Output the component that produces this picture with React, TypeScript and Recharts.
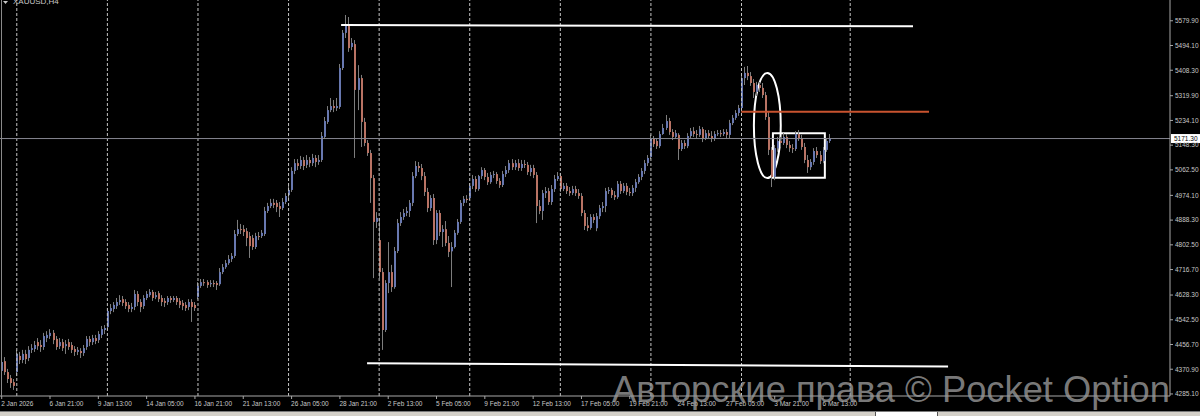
import { ComposedChart, Bar, XAxis, YAxis, ReferenceLine, ReferenceArea } from "recharts";

// XAUUSD H4, 2 Jan – 6 Mar 2026. Each row: [open, high, low, close]
const ohlc: [number, number, number, number][] = [
  [4368,4399,4358,4385],[4365,4410,4351,4396],[4399,4413,4351,4361],[4361,4372,4323,4337],[4340,4351,4306,4323],[4326,4337,4299,4313],[4361,4438,4347,4424],[4417,4431,4389,4403],[4403,4438,4392,4424],[4424,4438,4389,4406],
  [4410,4451,4399,4438],[4438,4458,4427,4444],[4441,4469,4431,4455],[4465,4479,4438,4451],[4455,4472,4431,4448],[4448,4497,4438,4486],[4479,4503,4465,4490],[4486,4510,4476,4497],[4497,4507,4458,4472],[4476,4486,4438,4448],
  [4451,4479,4441,4465],[4465,4476,4434,4444],[4451,4472,4424,4458],[4465,4476,4438,4448],[4455,4465,4427,4438],[4441,4451,4417,4431],[4431,4448,4420,4438],[4434,4444,4410,4427],[4427,4455,4417,4444],[4448,4486,4438,4476],
  [4476,4486,4451,4465],[4465,4490,4455,4479],[4479,4490,4458,4469],[4472,4503,4462,4493],[4490,4521,4479,4510],[4507,4524,4493,4514],[4517,4583,4507,4573],[4573,4597,4562,4583],[4580,4604,4569,4594],[4590,4618,4580,4604],
  [4604,4628,4594,4611],[4614,4625,4590,4601],[4604,4614,4580,4590],[4594,4604,4569,4580],[4580,4601,4569,4587],[4587,4646,4576,4632],[4632,4642,4590,4604],[4604,4614,4569,4587],[4590,4628,4580,4618],[4618,4642,4611,4632],
  [4628,4649,4621,4639],[4639,4646,4608,4618],[4621,4639,4614,4628],[4635,4642,4604,4614],[4618,4628,4590,4604],[4608,4618,4587,4601],[4604,4625,4594,4618],[4618,4625,4601,4611],[4611,4625,4604,4618],[4618,4625,4594,4604],
  [4608,4618,4583,4594],[4601,4611,4576,4590],[4594,4604,4573,4583],[4587,4614,4576,4604],[4604,4614,4535,4587],[4594,4604,4573,4583],[4621,4673,4614,4660],[4660,4684,4653,4673],[4673,4684,4660,4670],[4673,4680,4653,4663],
  [4666,4680,4656,4670],[4670,4680,4656,4666],[4670,4677,4646,4663],[4666,4722,4660,4708],[4708,4736,4701,4725],[4725,4750,4719,4739],[4739,4767,4733,4753],[4753,4774,4743,4764],[4764,4854,4757,4840],[4840,4889,4833,4857],
  [4857,4875,4840,4854],[4857,4871,4833,4847],[4850,4861,4798,4826],[4833,4847,4757,4798],[4826,4837,4785,4795],[4795,4844,4788,4833],[4833,4847,4819,4830],[4833,4854,4826,4844],[4840,4934,4833,4920],[4920,4948,4913,4937],
  [4937,4962,4930,4948],[4948,4962,4930,4941],[4948,4958,4916,4934],[4937,4951,4899,4927],[4930,4965,4923,4951],[4951,4982,4944,4972],[4975,5007,4965,4993],[4993,5072,4986,5059],[5059,5100,5048,5086],[5086,5100,5062,5076],
  [5076,5111,5066,5097],[5097,5107,5062,5076],[5080,5114,5069,5097],[5097,5107,5072,5086],[5086,5118,5076,5104],[5104,5114,5072,5090],[5090,5114,5080,5097],[5097,5194,5090,5180],[5177,5246,5170,5232],[5229,5284,5222,5270],
  [5270,5312,5263,5284],[5284,5305,5263,5277],[5277,5312,5267,5284],[5281,5430,5274,5416],[5416,5548,5409,5538],[5538,5600,5520,5565],[5565,5593,5472,5485],[5489,5520,5478,5503],[5499,5513,5104,5340],[5340,5426,5270,5381],
  [5381,5392,5142,5229],[5229,5243,5145,5156],[5156,5166,5111,5121],[5121,5132,4948,5034],[5034,5045,4687,4882],[4882,4916,4861,4896],[4819,4896,4687,4708],[4708,4722,4438,4507],[4507,4680,4500,4670],[4670,4812,4635,4708],
  [4708,4733,4639,4656],[4656,4795,4650,4781],[4781,4892,4774,4878],[4878,4916,4868,4899],[4899,4927,4889,4913],[4913,4934,4902,4920],[4920,4958,4899,4948],[4948,5055,4937,5041],[5041,5093,5034,5076],[5076,5090,5055,5069],
  [5069,5083,5027,5041],[5041,5055,4972,4986],[4986,5000,4916,4930],[4930,4975,4920,4965],[4965,4979,4802,4819],[4819,4923,4805,4913],[4913,4923,4833,4847],[4847,4871,4795,4857],[4857,4885,4798,4809],[4809,4833,4760,4778],
  [4780,4812,4656,4795],[4795,4854,4790,4844],[4844,4892,4837,4882],[4882,4958,4875,4948],[4948,4972,4937,4962],[4962,4975,4948,4958],[4965,5017,4958,5007],[5007,5045,4996,5031],[5031,5041,4986,4996],[4996,5045,4990,5041],
  [5041,5072,5031,5062],[5062,5069,5027,5038],[5038,5052,5010,5020],[5020,5055,5014,5045],[5045,5059,5034,5048],[5048,5055,5014,5024],[5024,5034,5000,5010],[5010,5059,5003,5048],[5048,5076,5038,5062],[5062,5097,5052,5086],
  [5086,5100,5062,5072],[5072,5097,5062,5086],[5086,5100,5059,5069],[5069,5097,5059,5083],[5083,5097,5069,5080],[5080,5090,5045,5055],[5055,5080,5041,5069],[5069,5080,5034,5045],[5045,5055,4878,4937],[4937,4958,4909,4920],
  [4920,4993,4889,4982],[4982,5003,4965,4989],[4989,5000,4941,4951],[4951,5010,4941,4996],[4996,5045,4986,5031],[5031,5055,5024,5041],[5041,5052,4986,4996],[4996,5017,4989,5007],[5007,5017,4979,4989],[4989,5003,4972,4982],
  [4982,5007,4975,4996],[4996,5007,4972,4982],[4982,4996,4962,4972],[4972,4982,4902,4913],[4913,4923,4854,4868],[4870,4899,4850,4861],[4861,4909,4855,4899],[4899,4909,4878,4889],[4860,4913,4850,4902],[4902,4941,4892,4930],
  [4930,4951,4916,4937],[4937,5000,4916,4989],[4989,5003,4979,4993],[4993,5000,4965,4975],[4975,4989,4958,4968],[4968,5024,4962,5014],[5014,5024,4979,4989],[4989,5017,4982,5007],[5007,5017,4975,4986],[4986,5000,4972,4982],
  [4982,5010,4972,5000],[5000,5031,4986,5020],[5020,5048,5014,5038],[5038,5069,5027,5059],[5059,5097,5048,5086],[5086,5114,5076,5104],[5107,5184,5100,5170],[5170,5180,5142,5152],[5163,5173,5135,5145],[5145,5197,5138,5187],
  [5187,5222,5184,5208],[5208,5253,5201,5232],[5232,5243,5184,5194],[5194,5204,5166,5177],[5177,5201,5170,5190],[5184,5190,5097,5135],[5135,5166,5128,5156],[5156,5166,5135,5145],[5145,5190,5138,5180],[5180,5208,5173,5197],
  [5197,5211,5177,5187],[5187,5201,5173,5184],[5184,5215,5177,5204],[5204,5211,5159,5170],[5170,5201,5166,5190],[5190,5201,5170,5180],[5180,5197,5159,5170],[5170,5197,5163,5187],[5187,5201,5180,5190],[5190,5201,5177,5187],
  [5187,5204,5180,5194],[5194,5204,5173,5184],[5184,5236,5173,5225],[5225,5253,5218,5243],[5243,5270,5236,5260],[5260,5288,5250,5277],[5277,5392,5270,5381],[5381,5420,5357,5399],[5399,5423,5374,5388],[5388,5402,5354,5364],
  [5364,5378,5312,5333],[5333,5368,5319,5357],[5357,5368,5333,5347],[5347,5364,5312,5322],[5322,5333,5236,5246],[5246,5263,5114,5132],[5132,5142,5003,5038],[5038,5149,5027,5138],[5138,5177,5125,5163],[5163,5177,5142,5156],
  [5156,5190,5149,5177],[5177,5187,5138,5149],[5149,5163,5125,5138],[5138,5152,5121,5135],[5135,5197,5128,5187],[5187,5201,5163,5173],[5173,5184,5132,5142],[5142,5156,5086,5097],[5097,5114,5052,5072],[5072,5100,5062,5090],
  [5090,5138,5080,5128],[5128,5142,5104,5114],[5114,5128,5083,5093],[5093,5142,5086,5132],[5132,5173,5125,5163],[5163,5187,5156,5171.3],
];

// time axis: bar index of each label
const xTickIdx = [1, 17, 33, 49, 65, 81, 97, 113, 129, 145, 161, 177, 193, 209, 225, 241, 257, 273];
const xTickLabels = [
  "2 Jan 2026", "6 Jan 21:00", "9 Jan 13:00", "14 Jan 05:00", "16 Jan 21:00", "21 Jan 13:00",
  "26 Jan 05:00", "28 Jan 21:00", "2 Feb 13:00", "5 Feb 05:00", "9 Feb 21:00", "12 Feb 13:00",
  "17 Feb 05:00", "19 Feb 21:00", "24 Feb 13:00", "27 Feb 05:00", "3 Mar 21:00", "6 Mar 13:00",
];
const yTicks = [
  5579.9, 5494.1, 5408.3, 5319.9, 5234.1, 5148.3, 5062.5, 4974.1,
  4888.3, 4802.5, 4716.7, 4628.3, 4542.5, 4456.7, 4370.9, 4285.1,
];
// week separators (dotted grid)
const weekGridIdx = [6, 36, 66, 96, 126, 156, 186, 216, 246, 282];
const lastPrice = 5171.3;

// hand-drawn annotations, in (bar index, price)
const topLine = [{ x: 113.4, y: 5565 }, { x: 302.8, y: 5561 }];
const bottomLine = [{ x: 122, y: 4392 }, { x: 314.4, y: 4380 }];
const redLine = [{ x: 245.9, y: 5264 }, { x: 308.1, y: 5264 }];
const ellipseBox = { x1: 250.1, x2: 259, y1: 5034, y2: 5399 };
const rangeBox = { x1: 256.4, x2: 273.6, y1: 5035, y2: 5190 };

const BULL = "#6878b0";
const BEAR = "#b97364";
const WICK = "#7d7d7d";
const AXIS = "#a8a8a8";
const TEXT = "#c8c8c8";
const FONT = "'Liberation Sans', Arial, sans-serif";

const rows = ohlc.map(([o, h, l, c], i) => ({ i, o, h, l, c, range: [l, h] }));

function Candle(props: any) {
  const { x, y, width, height, payload } = props;
  if (x == null || y == null || !payload) return null;
  const { o, h, l, c } = payload;
  const top = Math.min(y, y + height);
  const hh = Math.abs(height);
  const span = h - l || 1;
  const py = (v: number) => top + ((h - v) / span) * hh;
  const cx = Math.round(x + width / 2);
  const b0 = py(Math.max(o, c));
  const b1 = py(Math.min(o, c));
  return (
    <g>
      <line x1={cx - 0.5} x2={cx - 0.5} y1={top} y2={top + hh} stroke={WICK} strokeWidth={1} />
      <rect x={cx - 1} y={b0} width={2} height={Math.max(1, b1 - b0)} fill={c >= o ? BULL : BEAR} />
    </g>
  );
}

const XTick = (p: any) => {
  const k = xTickIdx.indexOf(p.payload.value);
  return (
    <text x={p.x - 0.5} y={p.y + 4.5} fill={TEXT} fontSize={6.5} fontFamily={FONT} textAnchor="start">
      {xTickLabels[k]}
    </text>
  );
};

const YTick = (p: any) => (
  <text x={p.x} y={p.y} dy="0.35em" fill={TEXT} fontSize={6.5} fontFamily={FONT} textAnchor="start">
    {Number(p.payload.value).toFixed(2)}
  </text>
);

const PriceTag = (p: any) => {
  const vb = p.viewBox;
  if (!vb) return null;
  const x = vb.x + vb.width + 1;
  return (
    <g>
      <rect x={x} y={vb.y - 4.5} width={29} height={9} fill="#ffffff" />
      <text x={x + 3} y={vb.y} dy="0.35em" fill="#000" fontSize={6.5} fontFamily={FONT}>
        {lastPrice.toFixed(2)}
      </text>
    </g>
  );
};

export default function App() {
  return (
    <div style={{ position: "absolute", left: 0, top: 0, width: 1200, height: 416, background: "#000", overflow: "hidden" }}>
      <ComposedChart width={1200} height={416} data={rows} margin={{ top: 0, right: 0, bottom: 0, left: 0 }}>
        <XAxis
          dataKey="i"
          type="number"
          domain={[0.44, 387.9]}
          allowDataOverflow
          ticks={xTickIdx}
          interval={0}
          height={20}
          tickSize={3}
          axisLine={{ stroke: AXIS }}
          tickLine={{ stroke: AXIS }}
          tick={XTick}
        />
        <YAxis
          orientation="right"
          type="number"
          domain={[4278, 5652]}
          allowDataOverflow
          ticks={yTicks}
          interval={0}
          width={30}
          tickSize={3}
          axisLine={{ stroke: AXIS }}
          tickLine={{ stroke: AXIS }}
          tick={YTick}
        />
        {weekGridIdx.map((g) => (
          <ReferenceLine key={g} x={g} stroke="#c4c4c4" strokeDasharray="3 2" strokeWidth={1} />
        ))}
        <ReferenceLine y={lastPrice} stroke="#868690" strokeWidth={1} label={PriceTag} />
        <Bar dataKey="range" barSize={2} shape={Candle} isAnimationActive={false} />
        <ReferenceLine segment={topLine} stroke="#ffffff" strokeWidth={2} />
        <ReferenceLine segment={bottomLine} stroke="#ffffff" strokeWidth={2} />
        <ReferenceLine segment={redLine} stroke="#c9532f" strokeWidth={2} />
        <ReferenceArea
          {...ellipseBox}
          shape={(p: any) => (
            <ellipse
              cx={p.x + p.width / 2}
              cy={p.y + p.height / 2}
              rx={Math.abs(p.width) / 2}
              ry={Math.abs(p.height) / 2}
              fill="none"
              stroke="#ffffff"
              strokeWidth={2}
            />
          )}
        />
        <ReferenceArea {...rangeBox} fill="none" stroke="#ffffff" strokeWidth={2} />
      </ComposedChart>
      <div style={{ position: "absolute", left: 1, top: 0, width: 1, height: 396, background: "#8a8a8a" }} />
      <div style={{ position: "absolute", left: 0, top: 411, width: 1200, height: 1, background: "#7a7a7a" }} />
      <div style={{ position: "absolute", left: 0, top: 412, width: 1200, height: 4, background: "#d4d0c8" }} />
      <div style={{ position: "absolute", left: 875, top: 412, width: 63, height: 4, background: "#ffffff", borderLeft: "1px solid #555", borderRight: "1px solid #555", boxSizing: "border-box" }} />
      <svg width={1200} height={416} style={{ position: "absolute", left: 0, top: 0, pointerEvents: "none" }}>
        <polygon points="3,1 8,1 5.5,4" fill={TEXT} />
        <text x={13} y={4} fill={TEXT} fontSize={8} fontFamily={FONT}>XAUUSD,H4</text>
        <text x={612} y={402} fill="#9a9a9a" fillOpacity={0.8} fontSize={36} fontFamily={FONT} textLength={558} lengthAdjust="spacingAndGlyphs">
          Авторские права © Pocket Option
        </text>
      </svg>
    </div>
  );
}
